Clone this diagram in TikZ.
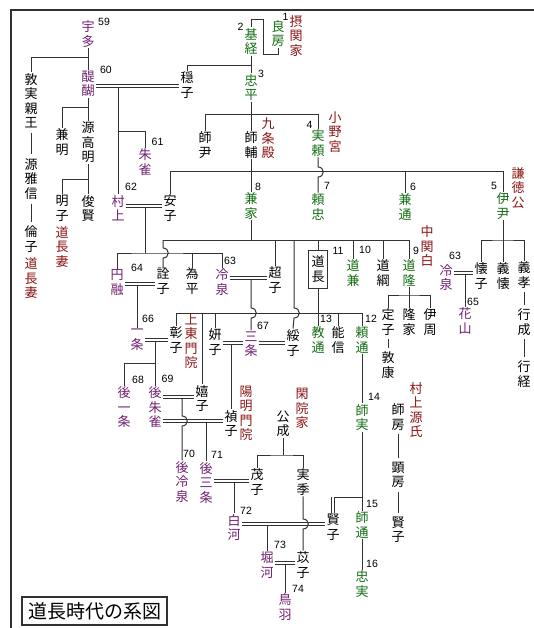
\documentclass[tikz,border=0pt]{standalone}
\usepackage{fontspec}
\newfontfamily\jp{Noto Sans CJK JP}
\newfontfamily\numf{Liberation Sans}
\definecolor{empc}{RGB}{112,32,112}
\definecolor{regc}{RGB}{20,110,20}
\definecolor{labc}{RGB}{140,20,20}
\definecolor{lnc}{RGB}{50,50,50}
\tikzset{
 nm/.style={font=\jp\fontsize{13}{14.5}\selectfont, align=center, inner sep=1pt, text=black},
 emp/.style={nm, text=empc},
 reg/.style={nm, text=regc},
 lab/.style={nm, text=labc},
 num/.style={font=\numf\fontsize{10.5}{11}\selectfont, inner sep=0pt},
 ln/.style={draw=lnc, line width=1pt},
 dbl/.style={draw=lnc, double=white, double distance=1.5pt, line width=0.8pt},
 kin/.style={ln, shorten <=3pt, shorten >=3pt},
}
\begin{document}
\begin{tikzpicture}[x=1pt,y=-1pt]
\useasboundingbox (0,0) rectangle (533,628);
\fill[white] (0,0) rectangle (533,628);
\draw[lnc, line width=1.4pt] (11,630) -- (11,10) -- (535,10);
\node[draw=lnc, line width=1.2pt, font=\jp\fontsize{19}{20}\selectfont, inner sep=1pt, minimum height=28, minimum width=145] (title) at (94.5,611) {道長時代の系図};

% ---- names ----
\node[emp] (uda) at (88,34) {宇\\多};
\node[emp] (daigo) at (88,84) {醍\\醐};
\node[nm] (atsumi) at (31,101) {敦\\実\\親\\王};
\node[nm] (masazane) at (31,179) {源\\雅\\信};
\node[nm] (rinshi) at (31,239) {倫\\子};
\node[lab] (labA) at (31,278.5) {道\\長\\妻};
\node[nm] (kaneakira) at (62,142) {兼\\明};
\node[nm] (takaakira) at (88,142.5) {源\\高\\明};
\node[nm] (akiko) at (62,208.5) {明\\子};
\node[lab] (labB) at (62,247) {道\\長\\妻};
\node[nm] (toshikata) at (88,208.5) {俊\\賢};
\node[emp] (murakami) at (118,208) {村\\上};
\node[emp] (suzaku) at (145,162) {朱\\雀};
\node[nm] (anshi) at (170,208) {安\\子};
\node[nm] (onshi) at (187,85) {穏\\子};
\node[reg] (mototsune) at (251,41.5) {基\\経};
\node[reg] (yoshifusa) at (278,33.5) {良\\房};
\node[lab] (labC) at (296,36) {摂\\関\\家};
\node[reg] (tadahira) at (251,87.5) {忠\\平};
\node[nm] (moromasa) at (205,145) {師\\尹};
\node[nm] (morosuke) at (251,145) {師\\輔};
\node[lab] (labD) at (268,138.5) {九\\条\\殿};
\node[reg] (sane) at (318,143) {実\\頼};
\node[lab] (labE) at (335,132) {小\\野\\宮};
\node[reg] (kaneie) at (251,206) {兼\\家};
\node[reg] (yoritada) at (318,207) {頼\\忠};
\node[reg] (kanemichi) at (405,207) {兼\\通};
\node[reg] (koremasa) at (503,206) {伊\\尹};
\node[lab] (labF) at (518,188) {謙\\徳\\公};
\node[emp] (enyu) at (117,282.5) {円\\融};
\node[nm] (senshi) at (163,281.5) {詮\\子};
\node[nm] (tamehira) at (192,281) {為\\平};
\node[emp] (reizei) at (222,282) {冷\\泉};
\node[nm] (choshi) at (275,280) {超\\子};
\node[nm, draw=lnc, line width=0.9pt, inner sep=2.5pt, minimum width=19, minimum height=38] (michinaga) at (318,269) {道\\長};
\node[reg] (michikane) at (353,273) {道\\兼};
\node[nm] (michitsuna) at (383,273) {道\\綱};
\node[reg] (michitaka) at (409,273) {道\\隆};
\node[lab] (labG) at (427,246.5) {中\\関\\白};
\node[nm] (kaishi) at (481,276) {懐\\子};
\node[nm] (yoshichika) at (503,276) {義\\懐};
\node[nm] (yoshitaka) at (524,275) {義\\孝};
\node[nm] (yukinari) at (524,322) {行\\成};
\node[nm] (yukitsune) at (524,374) {行\\経};
\node[emp] (reizeiB) at (446,277.5) {冷\\泉};
\node[emp] (kazan) at (465,321) {花\\山};
\node[nm] (teishiA) at (388,322) {定\\子};
\node[nm] (atsuyasu) at (388,365) {敦\\康};
\node[nm] (takaie) at (409,322) {隆\\家};
\node[nm] (korechika) at (430,322) {伊\\周};
\node[nm] (shoshi) at (176,340) {彰\\子};
\node[lab] (labH) at (191,341) {上\\東\\門\\院};
\node[nm] (kenshi) at (215,342) {妍\\子};
\node[emp] (sanjo) at (251,344) {三\\条};
\node[nm] (suishi) at (293,343) {綏\\子};
\node[reg] (norimichi) at (318,340) {教\\通};
\node[nm] (yoshinobu) at (338,340) {能\\信};
\node[reg] (yorimichi) at (362,340) {頼\\通};
\node[emp] (ichijo) at (137,339.5) {一\\条};
\node[emp] (goichijo) at (124,407.5) {後\\一\\条};
\node[emp] (gosuzaku) at (155,407.5) {後\\朱\\雀};
\node[nm] (kishi) at (202,398.5) {嬉\\子};
\node[nm] (teishi) at (231,423.5) {禎\\子};
\node[lab] (labI) at (246,413.5) {陽\\明\\門\\院};
\node[nm] (kinnari) at (283,424) {公\\成};
\node[lab] (labJ) at (302,408.5) {閑\\院\\家};
\node[emp] (goreizei) at (182,482) {後\\冷\\泉};
\node[emp] (gosanjo) at (206,483) {後\\三\\条};
\node[nm] (moshi) at (257,482) {茂\\子};
\node[nm] (sanesue) at (303,482) {実\\季};
\node[emp] (shirakawa) at (234,527.5) {白\\河};
\node[nm] (kenshiB) at (333,527.5) {賢\\子};
\node[emp] (horikawa) at (267,565) {堀\\河};
\node[nm] (ishi) at (303,565) {苡\\子};
\node[emp] (toba) at (285,607) {鳥\\羽};
\node[reg] (morozane) at (362,417.5) {師\\実};
\node[reg] (moromichi) at (362,525) {師\\通};
\node[reg] (tadazane) at (362,584) {忠\\実};
\node[lab] (labK) at (416,410) {村\\上\\源\\氏};
\node[nm] (morofusa) at (398,417) {師\\房};
\node[nm] (akifusa) at (398,475) {顕\\房};
\node[nm] (kenshiC) at (398,530) {賢\\子};

% ---- numbers ----
\node[num] (n59) at (104,22) {59};
\node[num] (n60) at (106,70) {60};
\node[num] (n61) at (157.5,142) {61};
\node[num] (n62) at (131,187) {62};
\node[num] (n64) at (137,268) {64};
\node[num] (n66) at (148,319) {66};
\node[num] (n68) at (138,380) {68};
\node[num] (n69) at (167.5,379) {69};
\node[num] (n70) at (189,454) {70};
\node[num] (n71) at (217,455) {71};
\node[num] (n72) at (246,511) {72};
\node[num] (n73) at (280,545) {73};
\node[num] (n74) at (298,589) {74};
\node[num] (n63a) at (230,261) {63};
\node[num] (n63b) at (455,256) {63};
\node[num] (n65) at (473,302) {65};
\node[num] (n67) at (263,326) {67};
\node[num] (n1) at (285.5,17) {1};
\node[num] (n2) at (240.5,27) {2};
\node[num] (n3) at (261,74) {3};
\node[num] (n4) at (309.5,125) {4};
\node[num] (n5) at (494,186) {5};
\node[num] (n6) at (413,187) {6};
\node[num] (n7) at (327,186) {7};
\node[num] (n8) at (258,187) {8};
\node[num] (n9) at (416,251) {9};
\node[num] (n10) at (365,250) {10};
\node[num] (n11) at (338,251) {11};
\node[num] (n12) at (371,319) {12};
\node[num] (n13) at (326,319) {13};
\node[num] (n14) at (374,397) {14};
\node[num] (n15) at (372,504) {15};
\node[num] (n16) at (372,564) {16};

% ---- connectors ----
% Uda / Daigo
\draw[ln] (uda.south) -- (daigo.north);
\coordinate (j1) at (88,58);
\draw[ln] (j1) -| (atsumi.north);
\draw[kin] (atsumi.south) -- (masazane.north);
\draw[kin] (masazane.south) -- (rinshi.north);
\draw[dbl] (daigo.east |- 0,86) -- (onshi.west |- 0,86);
\coordinate (j2) at (118,87.5);
\draw[ln] (j2) -- (murakami.north);
\coordinate (j3) at (118,132);
\draw[ln] (j3) -| (suzaku.north);
\draw[ln] (daigo.south) -- (takaakira.north);
\coordinate (j4) at (88,108);
\draw[ln] (j4) -| (kaneakira.north);
\draw[ln] (takaakira.south) -- (toshikata.north);
\coordinate (j5) at (88,180);
\draw[ln] (j5) -| (akiko.north);
% Murakami
\draw[dbl] (murakami.east |- 0,206) -- (anshi.west |- 0,206);
\coordinate (j6) at (145,207.5);
\coordinate (j7) at (145,253);
\draw[ln] (j6) -- (j7);
\draw[ln] (enyu.north) |- (j7) -| (reizei.north);
\draw[ln] (tamehira.north) -- (tamehira.north |- j7);
% Mototsune / Yoshifusa
\draw[ln] (mototsune.north) -- (251,20) -- (263,20) -- (263,55) -- (278,55) -- (yoshifusa.south);
\draw[ln] (mototsune.south) -- (tadahira.north);
\coordinate (j8) at (251,66);
\draw[ln] (j8) -| (onshi.north);
% Tadahira
\draw[ln] (tadahira.south) -- (morosuke.north);
\draw[ln] (moromasa.north) -- (205,115) -- (318,115) -- (sane.north);
% Morosuke children
\coordinate (j9) at (170,172);
\draw[ln] (anshi.north) -- (j9) -- (503,172) -- (koremasa.north);
\draw[ln] (morosuke.south) -- (kaneie.north);
\draw[ln] (kanemichi.north) -- (kanemichi.north |- j9);
\draw[ln] (sane.south) -- (318,167) .. controls (325,167) and (325,177) .. (318,177) -- (yoritada.north);
% Kaneie children
\coordinate (j10) at (163,240);
\draw[ln] (kaneie.south) -- (251,240);
\draw[ln] (j10) -- (409,240) -- (michitaka.north);
\draw[ln] (j10) -- (163,248) .. controls (170,248) and (170,258) .. (163,258) -- (senshi.north);
\draw[ln] (choshi.north) -- (choshi.north |- j10);
\draw[ln] (294,240) -- (294,308) .. controls (301,308) and (301,318) .. (294,318) -- (suishi.north);
\draw[ln] (michinaga.north) -- (michinaga.north |- j10);
\draw[ln] (michikane.north) -- (michikane.north |- j10);
\draw[ln] (michitsuna.north) -- (michitsuna.north |- j10);
% Reizei = Choshi
\draw[dbl] (reizei.east |- 0,278) -- (choshi.west |- 0,278);
\draw[ln] (251,279) -- (251,308) .. controls (258,308) and (258,318) .. (251,318) -- (sanjo.north);
% Michinaga children
\coordinate (j11) at (176,313);
\draw[ln] (shoshi.north) -- (j11) -- (362,313) -- (yorimichi.north);
\draw[ln] (michinaga.south) -- (norimichi.north);
\draw[ln] (202,313) -- (kishi.north);
\draw[ln] (kenshi.north) -- (kenshi.north |- j11);
\draw[ln] (yoshinobu.north) -- (yoshinobu.north |- j11);
% Enyu = Senshi
\draw[dbl] (enyu.east |- 0,284) -- (senshi.west |- 0,284);
\draw[ln] (137,285) -- (ichijo.north);
% Ichijo = Shoshi
\draw[dbl] (ichijo.east |- 0,340) -- (shoshi.west |- 0,340);
\coordinate (j12) at (155,363);
\draw[ln] (155,341) -- (j12);
\draw[ln] (goichijo.north) |- (j12) -- (gosuzaku.north);
% Gosuzaku
\draw[dbl] (gosuzaku.east |- 0,397) -- (kishi.west |- 0,397);
\draw[dbl] (gosuzaku.east |- 0,421) -- (teishi.west |- 0,421);
\draw[ln] (182,398) -- (182,416) .. controls (189,416) and (189,426) .. (182,426) -- (goreizei.north);
\draw[ln] (206,422) -- (gosanjo.north);
% Kenshi = Sanjo = Suishi
\draw[dbl] (kenshi.east |- 0,343) -- (sanjo.west |- 0,343);
\draw[dbl] (sanjo.east |- 0,343) -- (suishi.west |- 0,343);
\draw[ln] (231,344) -- (teishi.north);
% Kinnari
\coordinate (j13) at (283,455);
\draw[ln] (kinnari.south) -- (j13);
\draw[ln] (moshi.north) |- (j13) -| (sanesue.north);
% Gosanjo = Moshi
\draw[dbl] (gosanjo.east |- 0,481) -- (moshi.west |- 0,481);
\draw[ln] (234,482) -- (shirakawa.north);
% Shirakawa = Kenshi
\draw[dbl] (shirakawa.east |- 0,524) -- (kenshiB.west |- 0,524);
\draw[ln] (267,525) -- (horikawa.north);
\draw[ln] (sanesue.south) -- (303,519) .. controls (310,519) and (310,529) .. (303,529) -- (ishi.north);
% Horikawa = Ishi
\draw[dbl] (horikawa.east |- 0,563) -- (ishi.west |- 0,563);
\draw[ln] (285,564) -- (toba.north);
% Yorimichi line
\draw[ln] (yorimichi.south) -- (morozane.north);
\draw[ln] (morozane.south) -- (moromichi.north);
\draw[ln] (moromichi.south) -- (tadazane.north);
\coordinate (j14) at (362,497);
\draw[ln] (j14) -- (333,497);
\draw[dbl] (333,496.5) -- (kenshiB.north);
% Michitaka children
\coordinate (j15) at (409,295);
\draw[ln] (michitaka.south) -- (j15);
\draw[ln] (teishiA.north) |- (j15) -| (korechika.north);
\draw[ln] (j15) -- (takaie.north);
\draw[kin] (teishiA.south) -- (atsuyasu.north);
% Koremasa children
\coordinate (j16) at (503,240);
\draw[ln] (koremasa.south) -- (j16);
\draw[ln] (kaishi.north) |- (j16) -| (yoshitaka.north);
\draw[ln] (j16) -- (yoshichika.north);
\draw[kin] (yoshitaka.south) -- (yukinari.north);
\draw[kin] (yukinari.south) -- (yukitsune.north);
% Reizei = Kaishi
\draw[dbl] (reizeiB.east |- 0,273) -- (kaishi.west |- 0,273);
\draw[ln] (465,274) -- (kazan.north);
% Murakami Genji
\draw[kin] (morofusa.south) -- (akifusa.north);
\draw[kin] (akifusa.south) -- (kenshiC.north);
\end{tikzpicture}
\end{document}
